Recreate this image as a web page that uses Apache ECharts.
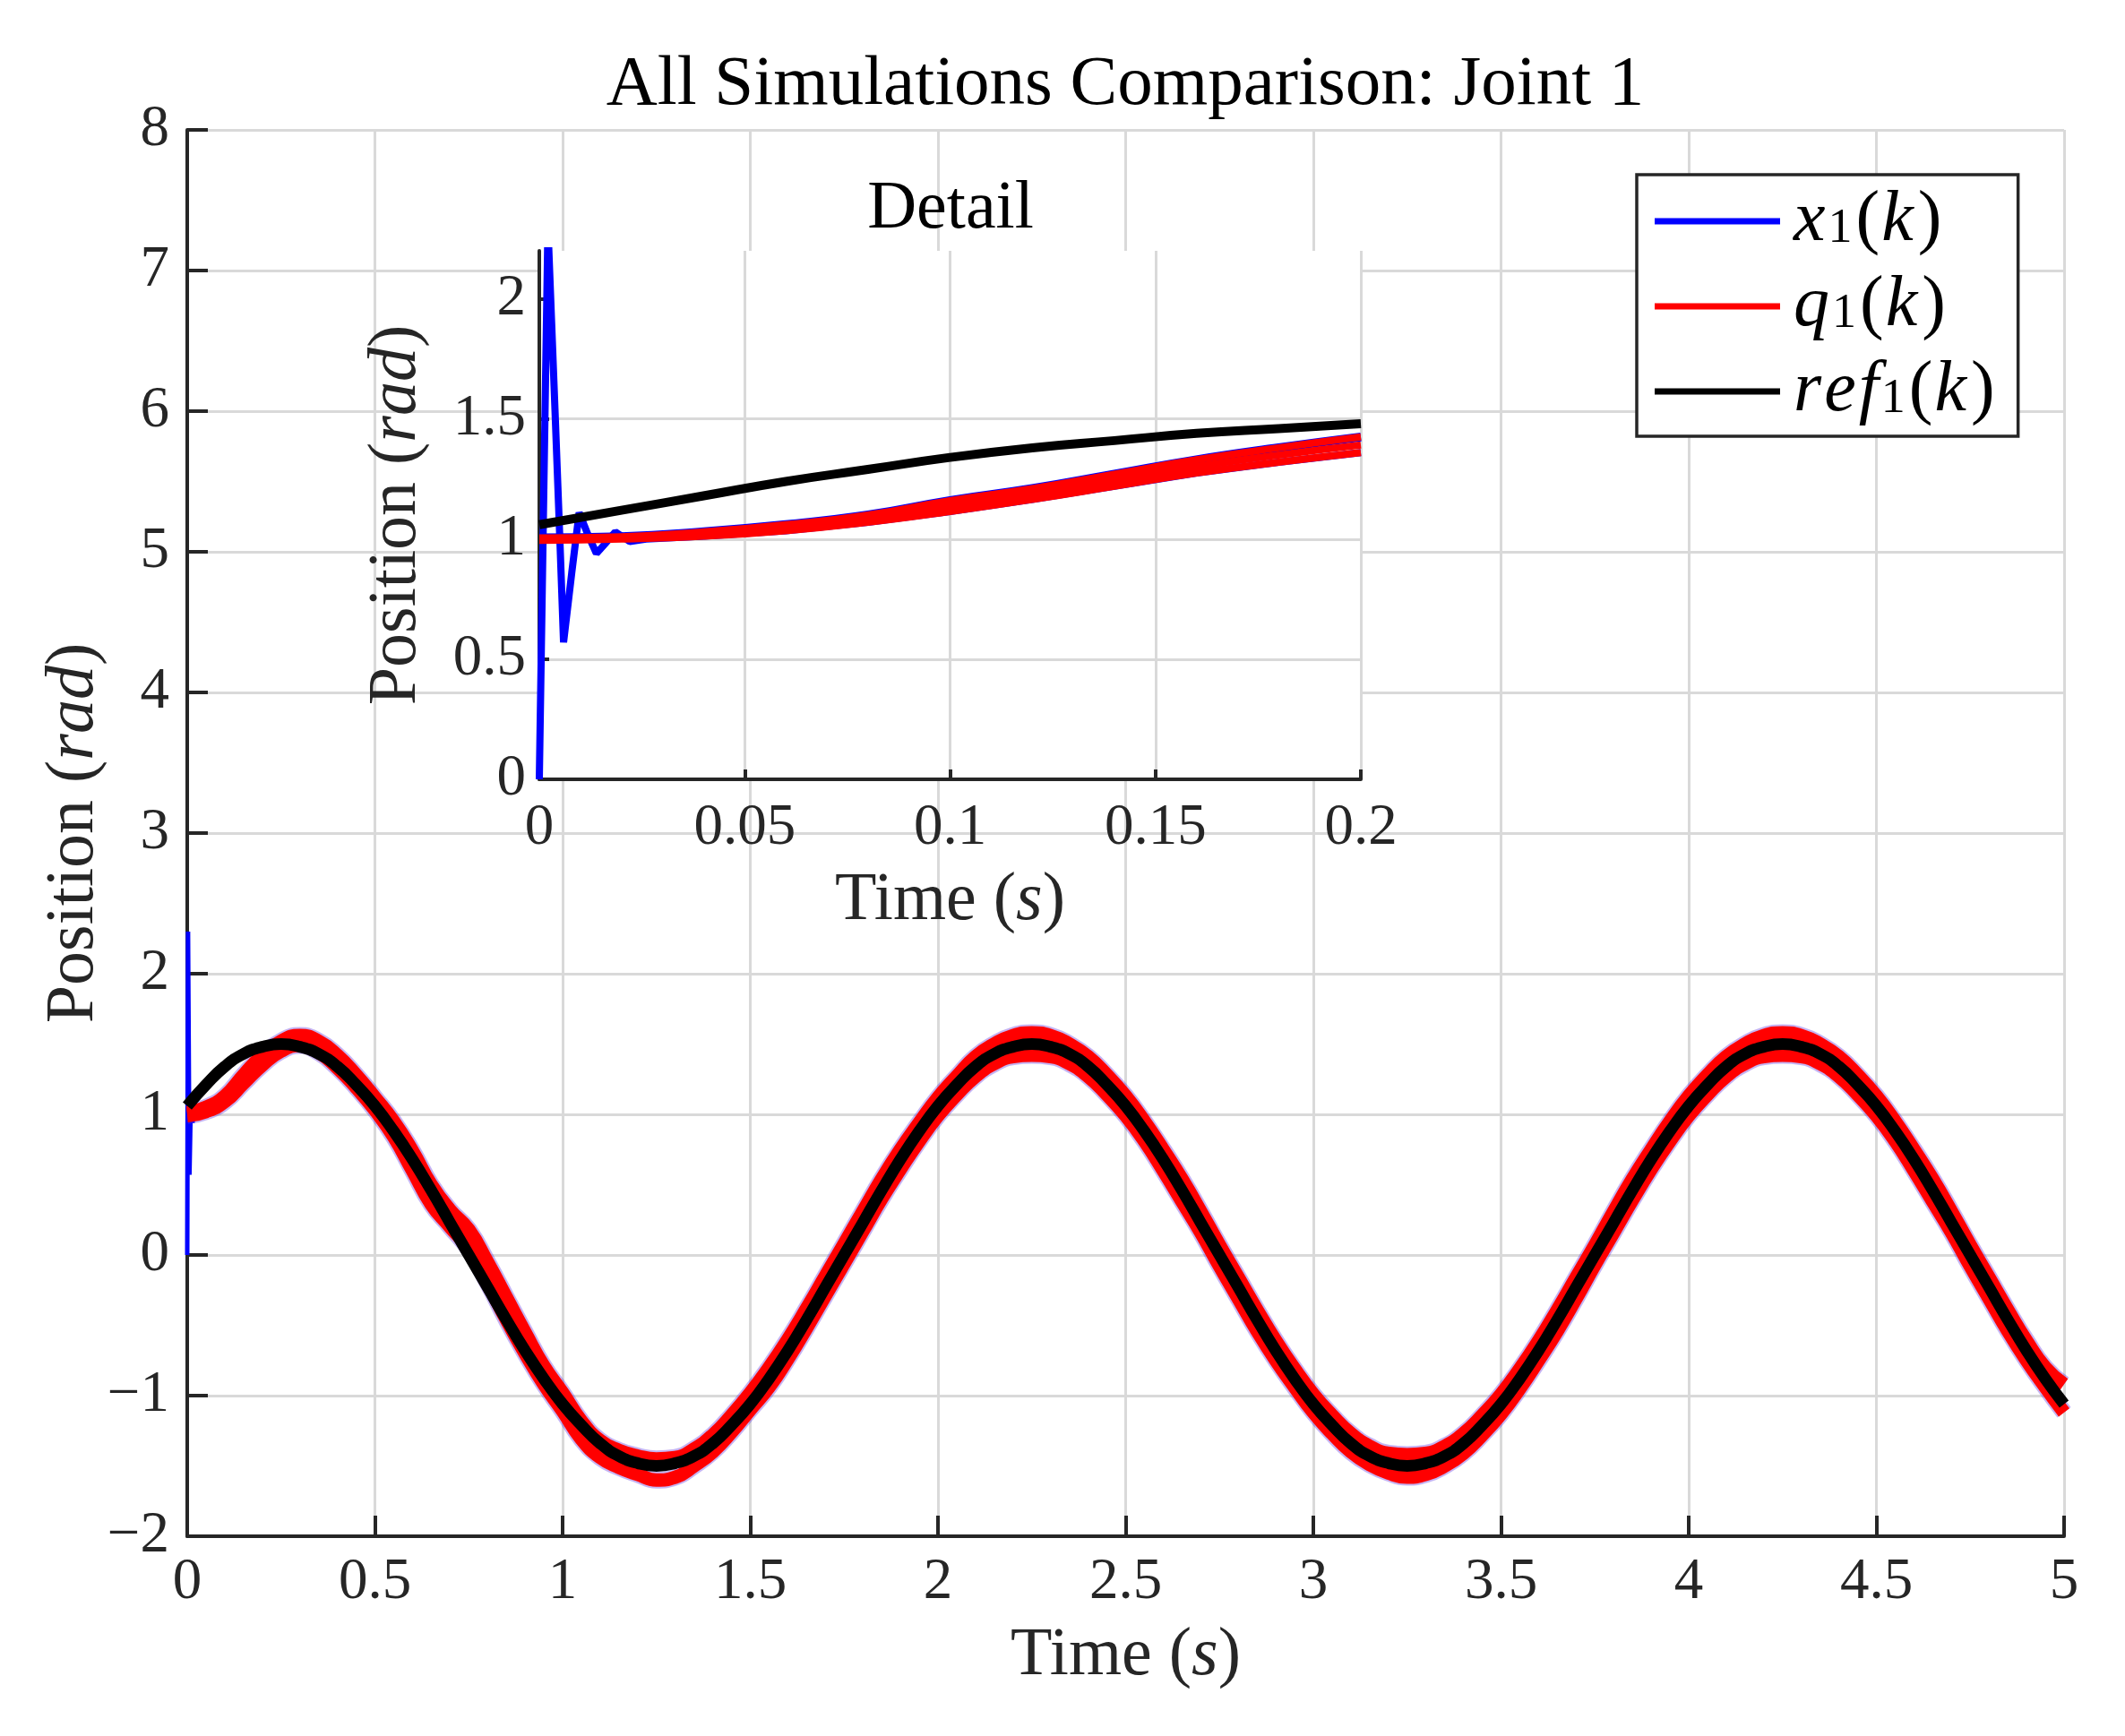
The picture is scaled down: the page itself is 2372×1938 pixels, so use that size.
<!DOCTYPE html>
<html>
<head>
<meta charset="utf-8">
<script src="https://cdn.jsdelivr.net/npm/echarts@6/dist/echarts.min.js"></script>
<style>
html,body{margin:0;padding:0;background:#fff;}
#chart{width:2372px;height:1938px;}
</style>
</head>
<body>
<div id="chart"></div>
<script>
// ---------- data ----------
const tMain = [0,0.05,0.1,0.15,0.2,0.25,0.3,0.35,0.4,0.45,0.5,0.55,0.6,0.65,0.7,0.75,0.8,0.85,0.9,0.95,
  1,1.05,1.1,1.15,1.2,1.25,1.3,1.35,1.4,1.45,1.5,1.55,1.6,1.65,1.7,1.75,1.8,1.85,1.9,1.95,
  2,2.05,2.1,2.15,2.2,2.25,2.3,2.35,2.4,2.45,2.5,2.55,2.6,2.65,2.7,2.75,2.8,2.85,2.9,2.95,
  3,3.05,3.1,3.15,3.2,3.25,3.3,3.35,3.4,3.45,3.5,3.55,3.6,3.65,3.7,3.75,3.8,3.85,3.9,3.95,
  4,4.05,4.1,4.15,4.2,4.25,4.3,4.35,4.4,4.45,4.5,4.55,4.6,4.65,4.7,4.75,4.8,4.85,4.9,4.95,5];

const refMain = [1.06,1.21,1.34,1.43,1.48,1.50,1.48,1.43,1.34,1.21,1.06,0.88,0.68,0.46,0.23,0.00,-0.23,-0.46,-0.68,-0.88,
  -1.06,-1.21,-1.34,-1.43,-1.48,-1.50,-1.48,-1.43,-1.34,-1.21,-1.06,-0.88,-0.68,-0.46,-0.23,0.00,0.23,0.46,0.68,0.88,
  1.06,1.21,1.34,1.43,1.48,1.50,1.48,1.43,1.34,1.21,1.06,0.88,0.68,0.46,0.23,0.00,-0.23,-0.46,-0.68,-0.88,
  -1.06,-1.21,-1.34,-1.43,-1.48,-1.50,-1.48,-1.43,-1.34,-1.21,-1.06,-0.88,-0.68,-0.46,-0.23,0.00,0.23,0.46,0.68,0.88,
  1.06,1.21,1.34,1.43,1.48,1.50,1.48,1.43,1.34,1.21,1.06,0.88,0.68,0.46,0.23,0.00,-0.23,-0.46,-0.68,-0.88,-1.06];

const qLowMain = [0.99,1.02,1.09,1.22,1.35,1.45,1.49,1.44,1.33,1.19,1.03,0.84,0.60,0.36,0.20,0.04,-0.20,-0.46,-0.70,-0.92,
  -1.11,-1.31,-1.44,-1.51,-1.56,-1.60,-1.58,-1.50,-1.40,-1.26,-1.10,-0.94,-0.74,-0.52,-0.29,-0.06,0.17,0.40,0.61,0.81,
  0.99,1.14,1.27,1.36,1.41,1.42,1.41,1.36,1.27,1.14,0.99,0.81,0.60,0.38,0.16,-0.08,-0.31,-0.54,-0.75,-0.94,
  -1.12,-1.27,-1.40,-1.49,-1.55,-1.58,-1.56,-1.50,-1.41,-1.28,-1.13,-0.95,-0.75,-0.54,-0.31,-0.07,0.16,0.39,0.61,0.81,
  0.99,1.14,1.27,1.36,1.41,1.42,1.41,1.36,1.27,1.14,0.99,0.81,0.60,0.38,0.16,-0.08,-0.31,-0.54,-0.75,-0.94,-1.12];

const qHighMain = [1.01,1.05,1.13,1.28,1.42,1.52,1.56,1.52,1.42,1.28,1.12,0.95,0.74,0.50,0.32,0.18,-0.05,-0.30,-0.55,-0.79,
  -0.98,-1.18,-1.32,-1.39,-1.43,-1.45,-1.44,-1.38,-1.28,-1.14,-0.98,-0.80,-0.60,-0.38,-0.15,0.08,0.31,0.54,0.75,0.94,
  1.12,1.27,1.41,1.50,1.56,1.58,1.56,1.50,1.41,1.28,1.13,0.95,0.75,0.54,0.31,0.07,-0.16,-0.39,-0.61,-0.81,
  -0.99,-1.14,-1.27,-1.36,-1.41,-1.42,-1.41,-1.36,-1.27,-1.14,-0.99,-0.81,-0.61,-0.39,-0.16,0.07,0.31,0.54,0.75,0.95,
  1.13,1.28,1.41,1.50,1.56,1.58,1.56,1.50,1.41,1.28,1.13,0.95,0.75,0.54,0.31,0.07,-0.16,-0.39,-0.61,-0.80,-0.92];

const tSpike = [0,0.001,0.0021,0.003,0.0039,0.005,0.0059,0.0079,0.0097,0.0118,0.0139,0.016,0.0185,0.022,0.026];
const x1Spike = [0,1.1,2.3,1.9,1.5,1.0,0.57,0.86,1.11,1.02,0.94,0.98,1.03,0.99,1.0];

const tDetail = [0,0.02,0.04,0.06,0.08,0.1,0.12,0.14,0.16,0.18,0.2];
const refDetail = [1.06,1.12,1.18,1.24,1.29,1.34,1.38,1.41,1.44,1.46,1.48];
const qLowDetail = [0.995,1.0,1.012,1.035,1.07,1.115,1.165,1.22,1.275,1.32,1.36];
const qMidDetail = [1.0,1.005,1.02,1.048,1.085,1.138,1.187,1.245,1.302,1.35,1.392];
const qHighDetail = [1.005,1.01,1.03,1.06,1.10,1.16,1.21,1.27,1.33,1.38,1.425];

const insetYTicks = [0,0.5,1,1.5,2];
const insetXTicks = [0,0.05,0.1,0.15,0.2];
const legendNames = ['x1(k)','q1(k)','ref1(k)'];

// ---------- helpers ----------
const pairs = (xs, ys) => xs.map((x, i) => [x, ys[i]]);
const FONT = 'Liberation Serif';
const AX = '#262626';
const GRIDC = '#d9d9d9';
const TICKFS = 65;
const NAMEFS = 76;
const fmt = v => (v < 0 ? '\u2212' + String(-v) : String(v));
const nameRich = {
  n: {fontFamily: FONT, fontSize: NAMEFS, color: AX},
  i: {fontFamily: FONT, fontSize: NAMEFS, fontStyle: 'italic', color: AX}
};

const blueInset = pairs(tSpike, x1Spike).concat(pairs(tDetail, qLowDetail).filter(p => p[0] >= 0.04));

function line(name, data, color, width, xi, extra) {
  return Object.assign({
    name: name, type: 'line', data: data, xAxisIndex: xi, yAxisIndex: xi,
    symbol: 'none', showSymbol: false, smooth: false, animation: false,
    lineStyle: {color: color, width: width}, itemStyle: {color: color},
    emphasis: {disabled: true}, z: xi === 1 ? 6 : 2
  }, extra || {});
}

const LEGCOL = {'x1(k)': '#0000ff', 'q1(k)': '#ff0000', 'ref1(k)': '#000000'};

const chart = echarts.init(document.getElementById('chart'), null, {renderer: 'canvas'});
chart.setOption({
  animation: false,
  backgroundColor: '#ffffff',
  title: [
    {text: 'All Simulations Comparison: Joint 1', left: 1256, top: 56, textAlign: 'center', padding: 0,
     textStyle: {fontFamily: FONT, fontSize: 79, fontWeight: 'normal', color: '#000'}},
    {text: 'Detail', left: 1061, top: 196, textAlign: 'center', padding: 0,
     textStyle: {fontFamily: FONT, fontSize: 76, fontWeight: 'normal', color: '#000'}}
  ],
  legend: {
    orient: 'vertical', left: 1827, top: 195,
    padding: [12, 24, 10, 20], itemGap: 15, itemWidth: 140, itemHeight: 7,
    backgroundColor: '#fff', borderColor: AX, borderWidth: 3.5, borderRadius: 0,
    icon: 'rect',
    data: legendNames.map(n => ({name: n, icon: 'rect', itemStyle: {color: LEGCOL[n], opacity: 1}})),
    selectedMode: false,
    formatter: function (name) {
      const base = name.replace('1(k)', '');
      return base.split('').map(c => '{i|' + c + '}').join('') + '{s|1}{n|(}{i|k}{n|)}';
    },
    textStyle: {
      padding: [0, 0, 0, 10],
      rich: {
        n: {fontFamily: FONT, fontSize: 80, lineHeight: 72, color: '#000', padding: [0, 2, 0, 2]},
        i: {fontFamily: FONT, fontSize: 80, lineHeight: 72, fontStyle: 'italic', color: '#000', padding: [0, 3, 0, 0]},
        s: {fontFamily: FONT, fontSize: 54, lineHeight: 26, verticalAlign: 'bottom', color: '#000', padding: [0, 2, 0, 0]}
      }
    }
  },
  grid: [
    {left: 209, right: 68, top: 145, bottom: 223, containLabel: false},
    {left: 602, right: 853, top: 280, bottom: 1068, containLabel: false, show: true,
     backgroundColor: '#ffffff', borderWidth: 0, z: 3}
  ],
  xAxis: [
    {type: 'value', gridIndex: 0, min: 0, max: 5, interval: 0.5,
     axisLine: {show: true, onZero: false, lineStyle: {color: AX, width: 4}},
     axisTick: {show: true, inside: true, length: 23, lineStyle: {color: AX, width: 4}},
     axisLabel: {margin: 19, fontFamily: FONT, fontSize: TICKFS, color: AX, formatter: fmt},
     splitLine: {show: true, lineStyle: {color: GRIDC, width: 3}},
     name: '{n|Time (}{i|s}{n|)}', nameLocation: 'middle', nameGap: 96, nameMoveOverlap: false,
     nameTextStyle: {rich: nameRich}},
    {type: 'value', gridIndex: 1, min: 0, max: 0.2, interval: 0.05, z: 4,
     axisLine: {show: true, onZero: false, lineStyle: {color: AX, width: 4}},
     axisTick: {show: true, inside: true, length: 11, lineStyle: {color: AX, width: 4}},
     axisLabel: {margin: 22, fontFamily: FONT, fontSize: TICKFS, color: AX, formatter: fmt},
     splitLine: {show: true, lineStyle: {color: GRIDC, width: 3}},
     name: '{n|Time (}{i|s}{n|)}', nameLocation: 'middle', nameGap: 98, nameMoveOverlap: false,
     nameTextStyle: {rich: nameRich}}
  ],
  yAxis: [
    {type: 'value', gridIndex: 0, min: -2, max: 8, interval: 1,
     axisLine: {show: true, onZero: false, lineStyle: {color: AX, width: 4}},
     axisTick: {show: true, inside: true, length: 23, lineStyle: {color: AX, width: 4}},
     axisLabel: {margin: 20, fontFamily: FONT, fontSize: TICKFS, color: AX, formatter: fmt},
     splitLine: {show: true, lineStyle: {color: GRIDC, width: 3}},
     name: '{n|Position (}{i|rad}{n|)}', nameLocation: 'middle', nameGap: 88, nameMoveOverlap: false,
     nameTextStyle: {rich: nameRich}},
    {type: 'value', gridIndex: 1, min: 0, max: 2.2, interval: 0.5, z: 4,
     axisLine: {show: true, onZero: false, lineStyle: {color: AX, width: 4}},
     axisTick: {show: true, inside: true, length: 11, customValues: insetYTicks, lineStyle: {color: AX, width: 4}},
     axisLabel: {margin: 15, fontFamily: FONT, fontSize: TICKFS, color: AX, formatter: fmt,
                 customValues: insetYTicks},
     splitLine: {show: true, showMaxLine: false, lineStyle: {color: GRIDC, width: 3}},
     name: '{n|Position (}{i|rad}{n|)}', nameLocation: 'middle', nameGap: 121, nameMoveOverlap: false,
     nameTextStyle: {rich: nameRich}}
  ],
  series: [
    // main axes
    line('x1(k)', pairs(tSpike, x1Spike), '#0000ff', 5, 0),
    line('x1(k)', pairs(tMain, qLowMain), 'rgba(90,40,220,0.35)', 19, 0, {smooth: true}),
    line('x1(k)', pairs(tMain, qHighMain), 'rgba(90,40,220,0.35)', 19, 0, {smooth: true}),
    line('q1(k)', pairs(tMain, qLowMain), '#ff0000', 15, 0, {smooth: true}),
    line('q1(k)', pairs(tMain, qHighMain), '#ff0000', 15, 0, {smooth: true}),
    line('ref1(k)', pairs(tMain, refMain), '#000000', 13, 0, {smooth: true}),
    // inset axes
    line('x1(k)', blueInset, '#0000ff', 8, 1),
    line('x1(k)', pairs(tDetail, qHighDetail), '#0000ff', 10, 1, {smooth: true}),
    line('q1(k)', pairs(tDetail, qLowDetail), '#ff0000', 8, 1, {smooth: true}),
    line('q1(k)', pairs(tDetail, qMidDetail), '#ff0000', 8, 1, {smooth: true}),
    line('q1(k)', pairs(tDetail, qHighDetail), '#ff0000', 8, 1, {smooth: true}),
    line('ref1(k)', pairs(tDetail, refDetail), '#000000', 10, 1, {smooth: true})
  ]
});
</script>
</body>
</html>
